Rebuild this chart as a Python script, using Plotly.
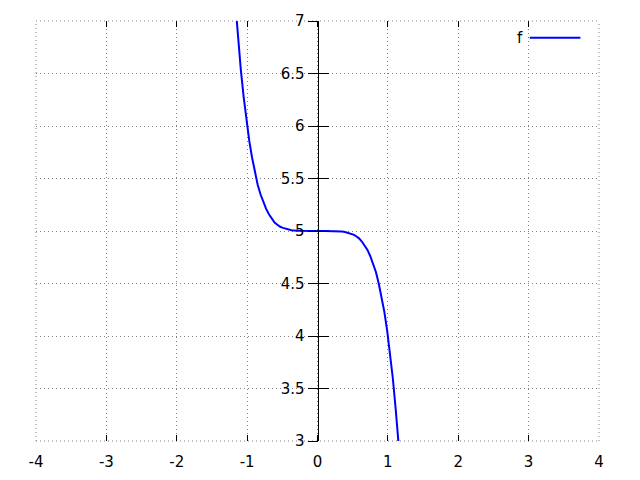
import plotly.graph_objects as go

# Values
x_vals = [-1.17, -1.13, -1.09, -1.05, -1.01, -0.97, -0.93, -0.89, -0.85, -0.81,
          -0.77, -0.73, -0.69, -0.65, -0.61, -0.57, -0.53, -0.49, -0.45, -0.41,
          -0.37, -0.29, -0.21, -0.13, -0.05, 0.03, 0.11, 0.19, 0.27, 0.35,
          0.39, 0.43, 0.47, 0.51, 0.55, 0.59, 0.63, 0.67, 0.71, 0.75,
          0.79, 0.83, 0.87, 0.91, 0.95, 0.99, 1.03, 1.07, 1.11, 1.15]
y_vals = [7.19, 6.84, 6.54, 6.28, 6.05, 5.86, 5.70, 5.56, 5.44, 5.35,
          5.27, 5.21, 5.16, 5.12, 5.08, 5.06, 5.04, 5.03, 5.02, 5.012,
          5.007, 5.002, 5.0, 5.0, 5.0, 5.0, 5.0, 5.0, 4.999, 4.995,
          4.991, 4.985, 4.977, 4.966, 4.95, 4.93, 4.90, 4.865, 4.82, 4.76,
          4.69, 4.61, 4.50, 4.38, 4.23, 4.05, 3.84, 3.60, 3.31, 2.99]
x_ticks = [-4, -3, -2, -1, 0, 1, 2, 3, 4]
y_ticks = [3, 3.5, 4, 4.5, 5, 5.5, 6, 6.5, 7]
y_tick_text = ["3", "3.5", "4", "4.5", "5", "5.5", "6", "6.5", "7"]
series_name = "f"

FONT = "DejaVu Sans"
GRID = "#808080"
GRID_DASH = "1px,3px"

fig = go.Figure()
fig.add_trace(go.Scatter(x=x_vals, y=y_vals, mode="lines", name=series_name,
                         line=dict(color="#0000ff", width=2), showlegend=False))
# invisible trace to activate overlay axis for inward y ticks
fig.add_trace(go.Scatter(x=[x_vals[0]], y=[y_vals[0]], yaxis="y2", mode="lines",
                         line=dict(width=0), hoverinfo="skip", showlegend=False))

# dotted grid lines along the plot-area edges (plotly omits boundary grid lines)
edge_style = dict(color=GRID, width=1, dash=GRID_DASH)
edge_shapes = [
    dict(type="line", xref="x domain", yref="y domain", x0=0, x1=1, y0=1, y1=1,
         line=edge_style, layer="below"),
    dict(type="line", xref="x domain", yref="y domain", x0=0, x1=1, y0=0, y1=0,
         line=edge_style, layer="below"),
    dict(type="line", xref="x domain", yref="y domain", x0=0, x1=0, y0=0, y1=1,
         line=edge_style, layer="below"),
    dict(type="line", xref="x domain", yref="y domain", x0=1, x1=1, y0=0, y1=1,
         line=edge_style, layer="below"),
]

fig.update_layout(
    width=640, height=480,
    margin=dict(l=28, r=49, t=13, b=47, autoexpand=False),
    paper_bgcolor="white", plot_bgcolor="white",
    font=dict(family=FONT, size=15, color="black"),
    xaxis=dict(range=[-4, 4], tickvals=x_ticks, ticktext=[str(v) for v in x_ticks],
               showgrid=True, gridcolor=GRID, griddash=GRID_DASH, gridwidth=1,
               zeroline=False, showline=False, ticks="inside", ticklen=6,
               tickcolor="black", tickwidth=1, mirror="ticks",
               ticklabelstandoff=10, automargin=False),
    yaxis=dict(range=[3, 7], tickvals=y_ticks, ticktext=y_tick_text,
               anchor="free", position=0.5,
               showgrid=True, gridcolor=GRID, griddash=GRID_DASH, gridwidth=1,
               zeroline=False, showline=True, linecolor="black", linewidth=1,
               ticks="outside", ticklen=10, tickcolor="black", tickwidth=1,
               automargin=False),
    yaxis2=dict(range=[3, 7], tickvals=y_ticks, overlaying="y",
                anchor="free", position=0.5, side="left",
                showgrid=False, zeroline=False, showline=False,
                ticks="inside", ticklen=10, tickcolor="black", tickwidth=1,
                showticklabels=False, automargin=False),
    annotations=[dict(xref="paper", yref="paper", x=0.868, y=0.96, text=series_name,
                      showarrow=False, xanchor="right", yanchor="middle",
                      font=dict(family=FONT, size=15, color="black"))],
    shapes=edge_shapes + [
        dict(type="line", xref="paper", yref="paper", x0=0.877, x1=0.967,
             y0=0.96, y1=0.96, line=dict(color="#0000ff", width=2))],
)

fig.write_html("out.html")
